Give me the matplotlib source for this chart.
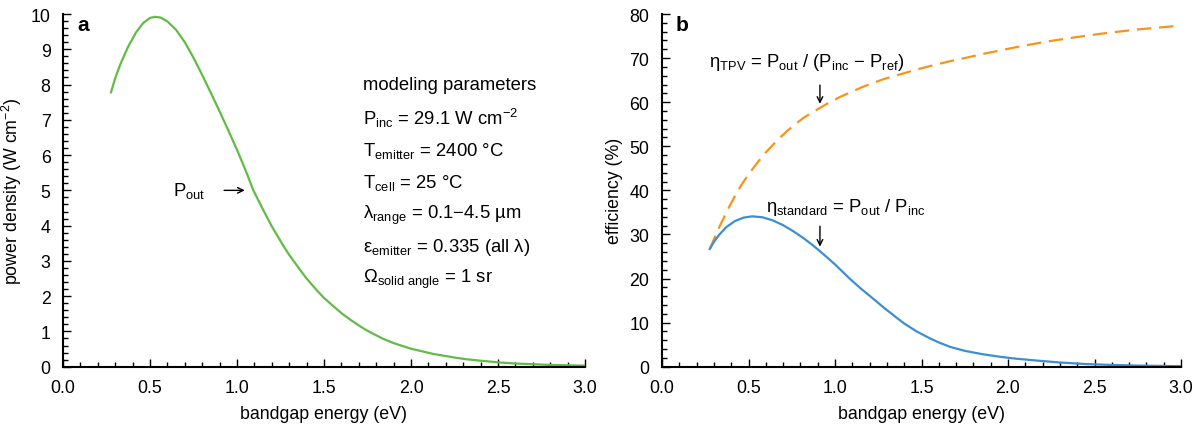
import numpy as np
import matplotlib
matplotlib.use('Agg')
import matplotlib.pyplot as plt
from matplotlib.ticker import MultipleLocator

plt.rcParams['font.family'] = ['Liberation Sans', 'DejaVu Sans']
plt.rcParams['mathtext.fontset'] = 'custom'
plt.rcParams['mathtext.rm'] = 'Liberation Sans'
plt.rcParams['mathtext.it'] = 'Liberation Sans:italic'
plt.rcParams['mathtext.bf'] = 'Liberation Sans:bold'
plt.rcParams['axes.unicode_minus'] = True

# 데이터
# panel a : P_out (W cm-2) vs bandgap (eV)
e_a = [0.276, 0.30, 0.33, 0.375, 0.42, 0.46, 0.50, 0.53, 0.56, 0.60, 0.65, 0.70, 0.75,
       0.80, 0.85, 0.90, 0.95, 1.00, 1.05, 1.094, 1.15, 1.20, 1.266, 1.30, 1.362, 1.40,
       1.458, 1.50, 1.553, 1.60, 1.649, 1.70, 1.745, 1.80, 1.84, 1.90, 1.937, 2.00, 2.13,
       2.25, 2.32, 2.40, 2.51, 2.60, 2.70, 2.80, 2.90, 3.0]
p_out = [7.78, 8.18, 8.58, 9.08, 9.48, 9.74, 9.89, 9.92, 9.90, 9.79, 9.55, 9.20, 8.76,
         8.27, 7.76, 7.24, 6.70, 6.15, 5.56, 5.00, 4.45, 3.98, 3.43, 3.17, 2.75, 2.50,
         2.17, 1.95, 1.72, 1.52, 1.34, 1.17, 1.03, 0.89, 0.79, 0.67, 0.61, 0.51, 0.36,
         0.26, 0.21, 0.17, 0.12, 0.09, 0.07, 0.05, 0.04, 0.03]

# panel b : efficiency (%)
e_std = [0.276, 0.30, 0.33, 0.37, 0.42, 0.47, 0.52, 0.58, 0.64, 0.70, 0.76, 0.82, 0.87,
         0.913, 0.96, 1.00, 1.05, 1.087, 1.15, 1.20, 1.279, 1.35, 1.40, 1.472, 1.55, 1.60,
         1.665, 1.75, 1.85, 1.954, 2.05, 2.15, 2.30, 2.45, 2.60, 2.75, 2.90, 3.0]
eff_std = [26.7, 28.3, 29.9, 31.6, 33.0, 33.8, 34.1, 33.9, 33.2, 32.1, 30.7, 29.1, 27.6,
           26.2, 24.6, 23.2, 21.3, 19.9, 17.7, 16.1, 13.5, 11.3, 9.8, 8.0, 6.4, 5.5,
           4.5, 3.6, 2.85, 2.25, 1.8, 1.45, 0.95, 0.6, 0.4, 0.25, 0.17, 0.12]

e_tpv = [0.276, 0.30, 0.335, 0.38, 0.42, 0.46, 0.509, 0.56, 0.60, 0.66, 0.721, 0.78, 0.82,
         0.87, 0.913, 0.97, 1.03, 1.087, 1.15, 1.21, 1.279, 1.376, 1.472, 1.57, 1.665,
         1.761, 1.85, 1.95, 2.05, 2.146, 2.25, 2.35, 2.44, 2.532, 2.64, 2.75, 2.87, 3.0]
eff_tpv = [26.7, 28.9, 32.0, 35.6, 38.6, 41.3, 44.1, 46.7, 48.6, 51.1, 53.4, 55.3, 56.5,
           57.7, 58.7, 60.0, 61.2, 62.2, 63.3, 64.2, 65.2, 66.3, 67.4, 68.4, 69.3,
           70.1, 70.9, 71.7, 72.5, 73.2, 73.9, 74.5, 75.0, 75.5, 76.0, 76.5, 76.9, 77.4]

green = '#62bb46'
blue = '#3d8fd1'
orange = '#f7941e'
fs = 12.8
fs_txt = 13.3

fig = plt.figure(figsize=(12.04, 4.31), dpi=100)
axa = fig.add_axes([63/1204, 1-367.7/431, 522/1204, 352.7/431])
axb = fig.add_axes([662/1204, 1-367.7/431, 519/1204, 352.7/431])

def style(ax):
    for s in ['top', 'right']:
        ax.spines[s].set_visible(False)
    for s in ['left', 'bottom']:
        ax.spines[s].set_linewidth(1.5)
    ax.tick_params(which='both', direction='in', width=1.0, labelsize=fs)
    ax.tick_params(which='major', length=5.5)
    ax.tick_params(which='minor', length=3.5)
    ax.tick_params(axis='y', pad=9)
    ax.tick_params(axis='x', pad=9)
    ax.set_xlim(0, 3.0)
    ax.xaxis.set_major_locator(MultipleLocator(0.5))
    ax.xaxis.set_minor_locator(MultipleLocator(0.1))
    ax.xaxis.set_major_formatter(plt.FormatStrFormatter('%.1f'))
    ax.set_xlabel('bandgap energy (eV)', fontsize=fs, labelpad=6)

style(axa)
style(axb)

# panel a
axa.plot(e_a, p_out, color=green, lw=1.6, solid_joinstyle='round')
axa.set_ylim(0, 10)
axa.yaxis.set_major_locator(MultipleLocator(1))
axa.yaxis.set_minor_locator(MultipleLocator(0.2))
axa.set_ylabel('power density (W cm$^{−2}$)', fontsize=fs, labelpad=5)
axa.text(0.027, 0.97, 'a', transform=axa.transAxes, fontsize=15, fontweight='bold', va='center', ha='left')

axa.annotate('', xy=(1.06, 5.0), xytext=(0.91, 5.0),
             arrowprops=dict(arrowstyle='->', color='black', lw=1.0))
axa.text(0.82, 5.0, 'P$_{\\rm out}$', fontsize=fs_txt, ha='right', va='center')

params = ['modeling parameters',
          'P$_{\\rm inc}$ = 29.1 W cm$^{−2}$',
          'T$_{\\rm emitter}$ = 2400 °C',
          'T$_{\\rm cell}$ = 25 °C',
          'λ$_{\\rm range}$ = 0.1−4.5 µm',
          'ε$_{\\rm emitter}$ = 0.335 (all λ)',
          'Ω$_{\\rm solid\\ angle}$ = 1 sr']
for i, t in enumerate(params):
    y = 1 - (86 + i*32.3 - 15) / 352.7
    axa.text((363 - 63) / 522, y, t, transform=axa.transAxes, fontsize=fs_txt, ha='left', va='center')

# panel b
axb.plot(e_tpv, eff_tpv, color=orange, lw=1.6, dashes=(6.5, 3.5))
axb.plot(e_std, eff_std, color=blue, lw=1.6, solid_joinstyle='round')
axb.set_ylim(0, 80)
axb.yaxis.set_major_locator(MultipleLocator(10))
axb.yaxis.set_minor_locator(MultipleLocator(2))
axb.set_ylabel('efficiency (%)', fontsize=fs, labelpad=5)
axb.text(0.027, 0.97, 'b', transform=axb.transAxes, fontsize=15, fontweight='bold', va='center', ha='left')

axb.annotate('', xy=(0.913, 59.0), xytext=(0.913, 64.5),
             arrowprops=dict(arrowstyle='->', color='black', lw=1.0))
axb.text(0.84, 69.3, 'η$_{\\rm TPV}$ = P$_{\\rm out}$ / (P$_{\\rm inc}$ − P$_{\\rm ref}$)',
         fontsize=fs_txt, ha='center', va='center')
axb.annotate('', xy=(0.913, 26.6), xytext=(0.913, 32.5),
             arrowprops=dict(arrowstyle='->', color='black', lw=1.0))
axb.text(1.06, 36.4, 'η$_{\\rm standard}$ = P$_{\\rm out}$ / P$_{\\rm inc}$',
         fontsize=fs_txt, ha='center', va='center')

fig.savefig('out.png', dpi=100)
